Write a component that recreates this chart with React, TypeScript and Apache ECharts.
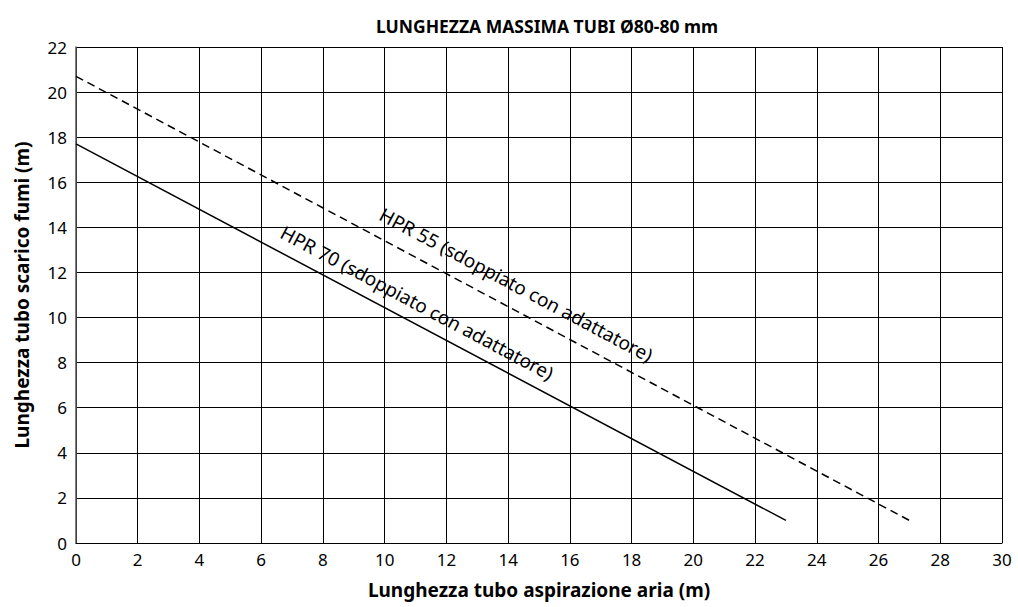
import React, { useEffect, useRef } from "react";
import * as echarts from "echarts";

const titleText = "LUNGHEZZA MASSIMA TUBI Ø80-80 mm";
const xAxisName = "Lunghezza tubo aspirazione aria (m)";
const yAxisName = "Lunghezza tubo scarico fumi (m)";

const hpr70Name = "HPR 70 (sdoppiato con adattatore)";
const hpr70Points: [number, number][] = [
  [0, 17.7],
  [23, 1],
];
const hpr70LabelAt: [number, number] = [11.05, 10.65];

const hpr55Name = "HPR 55 (sdoppiato con adattatore)";
const hpr55Points: [number, number][] = [
  [0, 20.7],
  [27, 1],
];
const hpr55LabelAt: [number, number] = [14.26, 11.45];

const FONT = "'Noto Sans', 'Open Sans', sans-serif";

export default function App() {
  const ref = useRef<HTMLDivElement>(null);
  useEffect(() => {
    if (!ref.current) return;
    const chart = echarts.init(ref.current, undefined, { renderer: "svg" });
    const labelPoint = (name: string, coord: [number, number], rot: number) => ({
      coord,
      symbol: "circle",
      symbolSize: 0,
      label: {
        show: true,
        formatter: name,
        position: "inside",
        rotate: rot,
        color: "#000",
        fontSize: 19,
        fontFamily: FONT,
      },
    });
    chart.setOption({
      animation: false,
      backgroundColor: "#fff",
      textStyle: { fontFamily: FONT },
      title: {
        text: titleText,
        left: 542,
        textAlign: "center",
        top: 12,
        textStyle: { fontSize: 17.5, fontWeight: "bold", color: "#000", fontFamily: FONT },
      },
      grid: { left: 76, right: 16, top: 47, bottom: 64, containLabel: false },
      xAxis: {
        type: "value",
        min: 0,
        max: 30,
        interval: 2,
        name: xAxisName,
        nameLocation: "middle",
        nameGap: 37,
        nameTextStyle: { fontSize: 19, fontWeight: "bold", color: "#000", fontFamily: FONT },
        axisLine: { show: true, onZero: false, lineStyle: { color: "#000", width: 1 } },
        axisTick: { show: false },
        axisLabel: { color: "#000", fontSize: 17, margin: 8, fontFamily: FONT },
        splitLine: { show: true, lineStyle: { color: "#000", width: 1 } },
      },
      yAxis: {
        type: "value",
        min: 0,
        max: 22,
        interval: 2,
        name: yAxisName,
        nameLocation: "middle",
        nameGap: 45,
        nameTextStyle: { fontSize: 19, fontWeight: "bold", color: "#000", fontFamily: FONT },
        axisLine: { show: true, lineStyle: { color: "#555", width: 1.5 } },
        axisTick: { show: false },
        axisLabel: { color: "#000", fontSize: 17, margin: 9, fontFamily: FONT },
        splitLine: { show: true, lineStyle: { color: "#000", width: 1 } },
      },
      series: [
        {
          name: hpr70Name,
          type: "line",
          data: hpr70Points,
          symbol: "none",
          lineStyle: { color: "#000", width: 1.5, type: "solid" },
          markPoint: {
            silent: true,
            data: [labelPoint(hpr70Name, hpr70LabelAt, -28)],
          },
        },
        {
          name: hpr55Name,
          type: "line",
          data: hpr55Points,
          symbol: "none",
          lineStyle: { color: "#000", width: 1.5, type: [8, 5] },
          markPoint: {
            silent: true,
            data: [labelPoint(hpr55Name, hpr55LabelAt, -28)],
          },
        },
      ],
    });
    return () => chart.dispose();
  }, []);
  return (
    <div
      ref={ref}
      style={{ position: "fixed", left: 0, top: 0, width: 1018, height: 607, background: "#fff" }}
    />
  );
}
